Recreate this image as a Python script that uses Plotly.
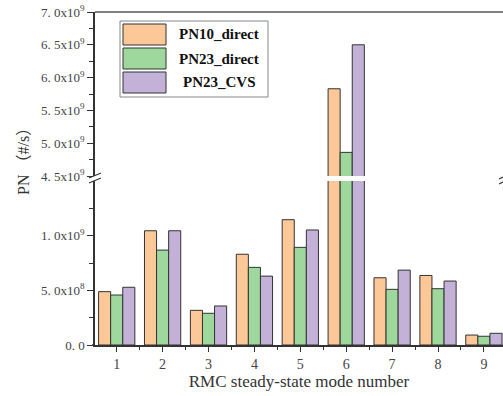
import plotly.graph_objects as go

# ---- data ----
modes = [1, 2, 3, 4, 5, 6, 7, 8, 9]
series_names = ["PN10_direct", "PN23_direct", "PN23_CVS"]
pn10_direct = [0.488e9, 1.045e9, 0.317e9, 0.83e9, 1.146e9, 5.83e9, 0.615e9, 0.636e9, 0.091e9]
pn23_direct = [0.457e9, 0.868e9, 0.290e9, 0.71e9, 0.893e9, 4.86e9, 0.509e9, 0.515e9, 0.080e9]
pn23_cvs = [0.528e9, 1.045e9, 0.357e9, 0.63e9, 1.052e9, 6.50e9, 0.685e9, 0.585e9, 0.107e9]
colors = ["#FDC897", "#9FD89C", "#C3B1D8"]

lower_tickvals = [0, 5e8, 1e9]
lower_ticktext = ["0. 0", "5. 0x10<sup>8</sup>", "1. 0x10<sup>9</sup>"]
upper_tickvals = [4.5e9, 5.0e9, 5.5e9, 6.0e9, 6.5e9, 7.0e9]
upper_ticktext = ["4. 5x10<sup>9</sup>", "5. 0x10<sup>9</sup>", "5. 5x10<sup>9</sup>",
                  "6. 0x10<sup>9</sup>", "6. 5x10<sup>9</sup>", "7. 0x10<sup>9</sup>"]

# ---- layout geometry (pixels) ----
W, H = 503, 396
L, R, T, B = 95, 0, 12, 51
PW, PH = W - L - R, H - T - B


def px_x(px):
    return (px - L) / PW


def px_y(py):
    return (H - B - py) / PH


FONT = "Liberation Serif, Times New Roman, serif"
EDGE = "#333333"

fig = go.Figure()
all_series = [pn10_direct, pn23_direct, pn23_cvs]
for name, vals, col in zip(series_names, all_series, colors):
    for yax in ["y", "y2"]:
        fig.add_trace(go.Bar(
            x=modes, y=vals, name=name, xaxis="x", yaxis=yax,
            marker=dict(color=col, line=dict(color=EDGE, width=1)),
            showlegend=False, offsetgroup=name,
        ))

lower_top = px_y(181)
upper_bot = px_y(176)

fig.update_layout(
    width=W, height=H,
    margin=dict(l=L, r=R, t=T, b=B),
    paper_bgcolor="white", plot_bgcolor="white",
    barmode="group", bargap=0.21, bargroupgap=0,
    font=dict(family=FONT, color="#444444", size=13),
    xaxis=dict(
        range=[0.527, 9.416], anchor="y",
        tickvals=modes, ticktext=[str(m) for m in modes],
        ticks="outside", ticklen=5, tickwidth=1, tickcolor=EDGE,
        showline=True, linecolor=EDGE, linewidth=1.5,
        showgrid=False, zeroline=False,
        minor=dict(tickvals=[m + 0.5 for m in modes], ticks="outside", ticklen=3, tickcolor=EDGE),
        tickfont=dict(size=14, color="#444444"),
        title=dict(text="RMC steady-state mode number", font=dict(size=17, color="#333333"), standoff=4),
    ),
    yaxis=dict(
        domain=[0, lower_top], range=[0, 1.5e9], anchor="x",
        tickvals=lower_tickvals, ticktext=lower_ticktext,
        ticks="outside", ticklen=6, tickcolor=EDGE,
        showline=True, linecolor=EDGE, linewidth=1.5,
        showgrid=False, zeroline=False,
        minor=dict(tickvals=[2.5e8, 7.5e8, 1.25e9], ticks="outside", ticklen=4, tickcolor=EDGE),
        tickfont=dict(size=13, color="#444444"),
    ),
    yaxis2=dict(
        domain=[upper_bot, 1], range=[4.5e9, 7.0e9], anchor="x",
        tickvals=upper_tickvals, ticktext=upper_ticktext,
        ticks="outside", ticklen=6, tickcolor=EDGE,
        showline=True, linecolor=EDGE, linewidth=1.5,
        showgrid=False, zeroline=False,
        minor=dict(tickvals=[4.75e9, 5.25e9, 5.75e9, 6.25e9, 6.75e9], ticks="outside", ticklen=4, tickcolor=EDGE),
        tickfont=dict(size=13, color="#444444"),
    ),
)

shapes = []
# top frame line
shapes.append(dict(type="line", xref="paper", yref="paper", x0=0, x1=1, y0=1, y1=1,
                   line=dict(color="#555555", width=1.5)))
# x axis line extension to the left
shapes.append(dict(type="line", xref="paper", yref="paper", x0=px_x(92), x1=0, y0=0, y1=0,
                   line=dict(color=EDGE, width=1.5)))
# break marks on left axis
for cy in [175.5, 180.5]:
    shapes.append(dict(type="line", xref="paper", yref="paper",
                       x0=px_x(89), y0=px_y(cy + 2.5), x1=px_x(101), y1=px_y(cy - 2.5),
                       line=dict(color=EDGE, width=1.2)))
# partial break marks at the right edge
for cy in [178, 183]:
    shapes.append(dict(type="line", xref="paper", yref="paper",
                       x0=px_x(499), y0=px_y(cy + 1), x1=px_x(503), y1=px_y(cy - 1),
                       line=dict(color=EDGE, width=1.2)))

# legend box
shapes.append(dict(type="rect", xref="paper", yref="paper",
                   x0=px_x(120), x1=px_x(268), y0=px_y(97), y1=px_y(21),
                   line=dict(color="#888888", width=1), fillcolor="white", layer="above"))
annotations = []
row_tops = [24, 48, 72]
for name, col, top in zip(series_names, colors, row_tops):
    shapes.append(dict(type="rect", xref="paper", yref="paper",
                       x0=px_x(123), x1=px_x(166), y0=px_y(top + 21), y1=px_y(top),
                       line=dict(color=EDGE, width=1), fillcolor=col, layer="above"))
    annotations.append(dict(xref="paper", yref="paper", x=px_x(219), y=px_y(top + 10.5),
                            text=f"<b>{name}</b>", showarrow=False, xanchor="center", yanchor="middle",
                            font=dict(family=FONT, size=15, color="#111111")))

cjk = "font-family:'Noto Sans CJK SC'"
ytitle = f"PN <span style=\"{cjk}\">（</span>#/s<span style=\"{cjk}\">）</span>"
annotations.append(dict(xref="paper", yref="paper", x=px_x(22), y=px_y(158),
                        text=ytitle, textangle=-90, showarrow=False,
                        xanchor="center", yanchor="middle",
                        font=dict(family=FONT, size=16, color="#333333")))

fig.update_layout(shapes=shapes, annotations=annotations)
fig.write_html("out.html")
